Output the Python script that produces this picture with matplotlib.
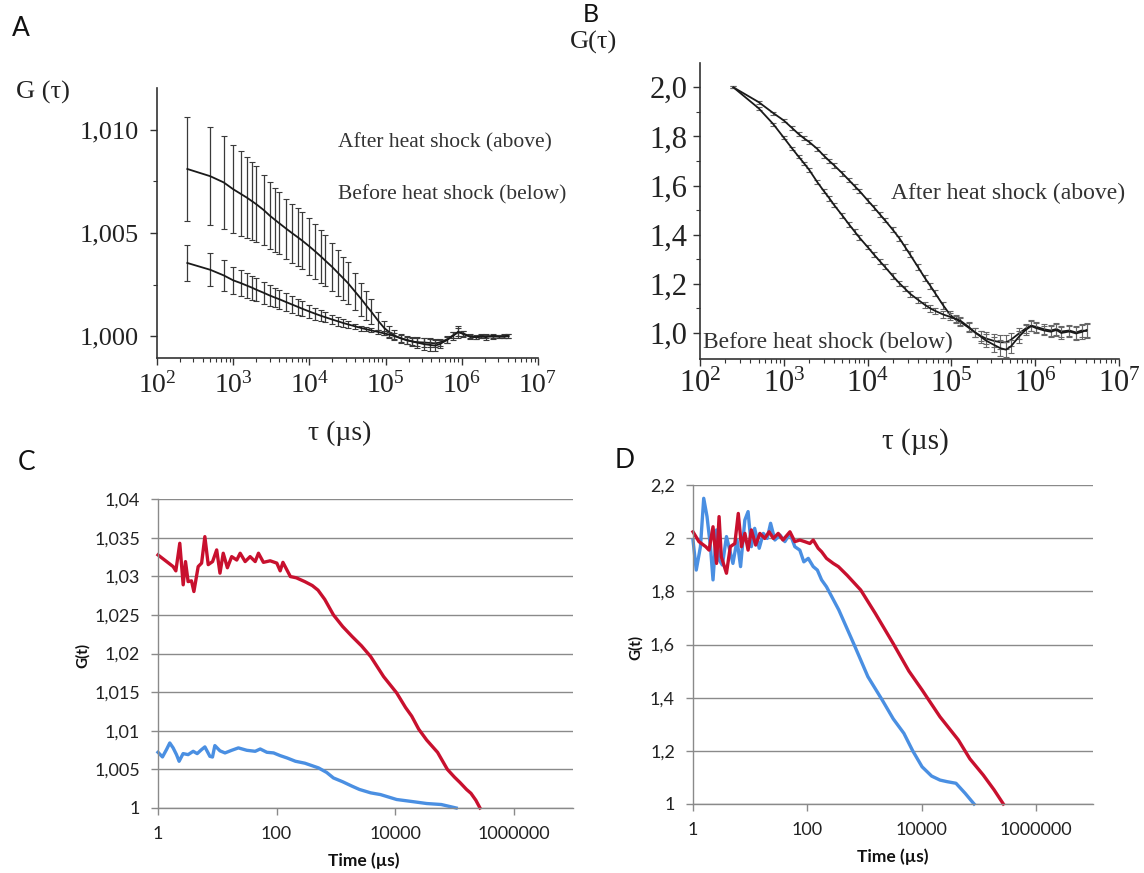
import math
import matplotlib
matplotlib.use('Agg')
import matplotlib.pyplot as plt
from matplotlib.ticker import FixedLocator, NullFormatter, FuncFormatter, LogLocator

# ---------------- data ----------------
# Panels A and B: lag times (µs)
tau = [250, 500, 750, 1000, 1250, 1500, 1750, 2000, 2500, 3000, 3500, 4000, 5000, 6000,
       7000, 8000, 10000, 12000, 14000, 16000, 20000, 24000, 28000, 32000, 40000, 48000,
       56000, 64000, 80000, 96000, 112000, 128000, 160000, 192000, 224000, 256000, 320000,
       384000, 448000, 512000, 640000, 768000, 896000, 1024000, 1280000, 1536000, 1792000,
       2048000, 2560000, 3072000, 3584000, 4096000]

A_after = [1.00810, 1.00775, 1.00745, 1.00712, 1.00690, 1.00672, 1.00655, 1.00640, 1.00612,
           1.00585, 1.00565, 1.00548, 1.00520, 1.00498, 1.00480, 1.00464, 1.00435, 1.00410,
           1.00388, 1.00368, 1.00335, 1.00305, 1.00280, 1.00258, 1.00215, 1.00180, 1.00148,
           1.00122, 1.00075, 1.00040, 1.00020, 1.00005, 0.99990, 0.99980, 0.99975, 0.99972,
           0.99970, 0.99968, 0.99966, 0.99970, 0.99985, 1.00005, 1.00020, 1.00015, 1.00000,
           0.99995, 0.99998, 1.00002, 0.99998, 1.00000, 0.99998, 1.00002]
A_after_err = [0.00250, 0.00236, 0.00225, 0.00214, 0.00205, 0.00198, 0.00190, 0.00183, 0.00170,
               0.00160, 0.00155, 0.00150, 0.00145, 0.00142, 0.00140, 0.00138, 0.00136, 0.00132,
               0.00128, 0.00124, 0.00118, 0.00112, 0.00106, 0.00100, 0.00090, 0.00080, 0.00070,
               0.00060, 0.00045, 0.00035, 0.00030, 0.00025, 0.00020, 0.00018, 0.00018, 0.00020,
               0.00022, 0.00022, 0.00020, 0.00018, 0.00015, 0.00015, 0.00020, 0.00012, 0.00010,
               0.00008, 0.00008, 0.00008, 0.00010, 0.00008, 0.00008, 0.00008]
A_before = [1.00355, 1.00322, 1.00295, 1.00271, 1.00258, 1.00246, 1.00236, 1.00226, 1.00211,
            1.00198, 1.00188, 1.00180, 1.00165, 1.00153, 1.00143, 1.00134, 1.00120, 1.00109,
            1.00100, 1.00093, 1.00081, 1.00072, 1.00064, 1.00058, 1.00048, 1.00040, 1.00034,
            1.00029, 1.00021, 1.00014, 1.00008, 1.00002, 0.99990, 0.99982, 0.99975, 0.99970,
            0.99962, 0.99958, 0.99955, 0.99962, 0.99982, 1.00002, 1.00022, 1.00012, 0.99998,
            0.99996, 1.00000, 0.99996, 1.00002, 0.99998, 1.00000, 1.00001]
A_before_err = [0.00089, 0.00079, 0.00075, 0.00066, 0.00062, 0.00060, 0.00058, 0.00056, 0.00053,
                0.00050, 0.00048, 0.00046, 0.00043, 0.00040, 0.00038, 0.00036, 0.00033, 0.00030,
                0.00028, 0.00026, 0.00023, 0.00020, 0.00018, 0.00016, 0.00014, 0.00012, 0.00010,
                0.00010, 0.00009, 0.00010, 0.00012, 0.00014, 0.00016, 0.00018, 0.00022, 0.00025,
                0.00028, 0.00030, 0.00025, 0.00020, 0.00016, 0.00018, 0.00030, 0.00014, 0.00010,
                0.00008, 0.00010, 0.00012, 0.00010, 0.00008, 0.00010, 0.00010]

B_after = [2.000, 1.940, 1.895, 1.865, 1.835, 1.810, 1.792, 1.778, 1.750, 1.722, 1.700, 1.682,
           1.650, 1.622, 1.598, 1.578, 1.540, 1.510, 1.483, 1.460, 1.420, 1.385, 1.350, 1.320,
           1.268, 1.225, 1.192, 1.162, 1.112, 1.075, 1.055, 1.045, 1.022, 1.002, 0.988, 0.978,
           0.968, 0.962, 0.962, 0.972, 0.998, 1.018, 1.030, 1.025, 1.015, 1.010, 1.016, 1.006,
           1.010, 1.002, 1.010, 1.008]
B_after_err = [0.004, 0.006, 0.006, 0.007, 0.007, 0.007, 0.008, 0.008, 0.008, 0.008, 0.009,
               0.009, 0.009, 0.009, 0.010, 0.010, 0.010, 0.010, 0.010, 0.010, 0.011, 0.011,
               0.011, 0.012, 0.012, 0.012, 0.013, 0.013, 0.014, 0.014, 0.015, 0.016, 0.018,
               0.020, 0.022, 0.024, 0.026, 0.028, 0.028, 0.026, 0.022, 0.020, 0.022, 0.020,
               0.020, 0.022, 0.024, 0.022, 0.024, 0.026, 0.026, 0.028]
B_before = [2.000, 1.915, 1.850, 1.795, 1.752, 1.718, 1.690, 1.665, 1.615, 1.578, 1.548, 1.520,
            1.478, 1.442, 1.413, 1.388, 1.350, 1.318, 1.292, 1.270, 1.232, 1.202, 1.180, 1.160,
            1.135, 1.115, 1.100, 1.090, 1.075, 1.066, 1.058, 1.050, 1.025, 1.002, 0.985, 0.970,
            0.952, 0.938, 0.932, 0.945, 0.985, 1.012, 1.028, 1.020, 1.010, 1.005, 1.012, 1.000,
            1.006, 0.998, 1.004, 1.012]
B_before_err = [0.004, 0.006, 0.006, 0.007, 0.007, 0.007, 0.008, 0.008, 0.008, 0.008, 0.009,
                0.009, 0.009, 0.009, 0.010, 0.010, 0.010, 0.010, 0.010, 0.010, 0.011, 0.011,
                0.011, 0.012, 0.012, 0.012, 0.013, 0.013, 0.014, 0.014, 0.015, 0.016, 0.018,
                0.020, 0.024, 0.026, 0.030, 0.032, 0.030, 0.028, 0.024, 0.020, 0.022, 0.020,
                0.020, 0.022, 0.024, 0.026, 0.024, 0.026, 0.028, 0.028]

# Panel C
C_red_t = [1, 1.8, 2.0, 2.33, 2.66, 2.91, 3.22, 3.67, 4.03, 4.76, 5.44, 6.17, 7.03, 8.33, 9.77,
           11.1, 12.6, 14.8, 17.5, 21.3, 24.3, 29.5, 35.8, 43.6, 49.5, 60, 78, 101, 115, 128,
           171, 215, 300, 400, 500, 650, 910, 1300, 1880, 2700, 3870, 6400, 10600, 15000,
           19000, 25000, 34000, 52000, 76000, 100000, 124000, 160000, 190000, 230000, 270000]
C_red_g = [1.03276, 1.03125, 1.0307, 1.03427, 1.02889, 1.0319, 1.02931, 1.0294, 1.02802, 1.03125,
           1.0317, 1.03513, 1.0315, 1.0319, 1.03341, 1.0304, 1.03298, 1.0311, 1.03254, 1.0321,
           1.03298, 1.0319, 1.03254, 1.0319, 1.03298, 1.0318, 1.0320, 1.0317, 1.0307, 1.0318,
           1.02996, 1.0298, 1.0293, 1.0288, 1.0282, 1.0270, 1.0250, 1.0235, 1.0222, 1.0210,
           1.0196, 1.0170, 1.0149, 1.0130, 1.0119, 1.0102, 1.0088, 1.0072, 1.0050, 1.0040,
           1.0033, 1.0024, 1.0019, 1.0010, 1.0000]
C_blue_t = [1, 1.19, 1.39, 1.58, 1.80, 2.05, 2.27, 2.65, 3.22, 3.92, 4.58, 5.43, 6.18, 7.5, 8.3,
            9.1, 11.1, 13.5, 17.5, 22.7, 31.5, 43.6, 53, 68.7, 89, 115, 150, 208, 300, 510,
            700, 910, 1300, 1880, 2500, 3870, 5650, 10600, 21000, 34000, 60000, 107000]
C_blue_g = [1.00721, 1.00661, 1.00756, 1.00842, 1.00778, 1.00691, 1.00605, 1.00704, 1.00691,
            1.00734, 1.00704, 1.00756, 1.00791, 1.00669, 1.0066, 1.00808, 1.0074, 1.00713,
            1.00747, 1.00778, 1.00747, 1.00734, 1.00764, 1.00721, 1.00713, 1.00678, 1.00648,
            1.00605, 1.0058, 1.00519, 1.0046, 1.00389, 1.0034, 1.00282, 1.0024, 1.00196,
            1.00174, 1.0011, 1.0008, 1.00058, 1.00045, 1.0000]

# Panel D
D_red_t = [1, 1.27, 1.67, 1.91, 2.24, 2.58, 2.86, 3.13, 3.85, 4.5, 5.4, 6.2, 7.05, 8.1, 9.2,
           10.5, 12.5, 14.8, 18, 21.5, 25.5, 31, 37.5, 49.7, 60.5, 74, 90, 111, 127, 155, 178,
           217, 285, 350, 500, 861, 1550, 3180, 6000, 10200, 21000, 44000, 70000, 120000,
           186000, 270000]
D_red_g = [2.024, 1.987, 1.968, 1.955, 2.043, 1.905, 2.081, 1.930, 1.868, 1.968, 1.980, 2.093,
           1.968, 2.018, 1.955, 2.031, 1.974, 2.018, 1.999, 2.024, 1.999, 2.018, 1.993, 2.024,
           1.987, 1.993, 1.987, 1.980, 1.993, 1.962, 1.949, 1.924, 1.905, 1.893, 1.860, 1.805,
           1.717, 1.604, 1.500, 1.429, 1.328, 1.241, 1.170, 1.109, 1.053, 1.000]
D_blue_t = [1, 1.14, 1.35, 1.54, 1.76, 2.02, 2.24, 2.57, 2.86, 3.27, 3.85, 4.4, 5.0, 5.9, 6.8,
            8.07, 9.2, 10.5, 12, 14.4, 17, 19.9, 22.8, 27.1, 33.2, 40.5, 49.7, 60.5, 74, 87,
            104, 127, 150, 178, 217, 356, 646, 1150, 2050, 3200, 4900, 7000, 10200, 15000,
            21000, 28000, 40000, 58000, 83000]
D_blue_g = [1.993, 1.880, 1.968, 2.150, 2.081, 1.968, 1.843, 2.031, 1.918, 1.899, 2.006, 1.955,
            1.905, 1.993, 1.893, 2.068, 2.100, 1.968, 2.037, 1.962, 2.018, 1.999, 2.056, 1.993,
            2.012, 1.987, 2.018, 1.968, 1.955, 1.911, 1.924, 1.893, 1.880, 1.843, 1.817, 1.730,
            1.604, 1.479, 1.391, 1.320, 1.266, 1.200, 1.140, 1.105, 1.090, 1.084, 1.078, 1.040,
            1.000]

# ---------------- figure ----------------
W, H = 1144, 873
plt.rcParams['mathtext.fontset'] = 'custom'
plt.rcParams['mathtext.rm'] = 'Liberation Serif'
plt.rcParams['mathtext.it'] = 'Liberation Serif:italic'
plt.rcParams['mathtext.bf'] = 'Liberation Serif:bold'
fig = plt.figure(figsize=(W / 100, H / 100), dpi=100)
fig.patch.set_facecolor('white')

SERIF = 'Liberation Serif'
SANS = 'Lato'


def ax_rect(l, t, r, b):
    return [l / W, 1 - b / H, (r - l) / W, (b - t) / H]


def ftxt(x, y, s, **kw):
    fig.text(x / W, 1 - y / H, s, **kw)


def pow_fmt(v, pos):
    e = int(round(math.log10(v)))
    return r'$\mathregular{10^{%d}}$' % e


def style_fcs(ax, ysize, xsize, ypad, xpad):
    for sp in ['top', 'right']:
        ax.spines[sp].set_visible(False)
    for sp in ['left', 'bottom']:
        ax.spines[sp].set_color('#333333')
        ax.spines[sp].set_linewidth(1.2)
    ax.set_xscale('log')
    ax.set_xlim(1e2, 1e7)
    ax.xaxis.set_major_locator(FixedLocator([1e2, 1e3, 1e4, 1e5, 1e6, 1e7]))
    ax.xaxis.set_major_formatter(FuncFormatter(pow_fmt))
    ax.xaxis.set_minor_locator(LogLocator(base=10, subs=range(2, 10), numticks=20))
    ax.xaxis.set_minor_formatter(NullFormatter())
    ax.tick_params(axis='both', which='major', direction='out', length=5, width=1.0,
                   color='#333333', labelcolor='#222222')
    ax.tick_params(axis='both', which='minor', direction='out', length=3, width=0.8,
                   color='#333333')
    ax.tick_params(axis='y', which='major', labelsize=ysize, pad=ypad)
    ax.tick_params(axis='x', which='major', labelsize=xsize, pad=xpad)


def serif_labels(ax):
    for lab in ax.get_yticklabels() + ax.get_xticklabels():
        lab.set_family(SERIF)


# ----- Panel A -----
axA = fig.add_axes(ax_rect(157, 88, 538, 358))
style_fcs(axA, 19, 20, 8, 5)
axA.set_ylim(0.99895, 1.01202)
axA.yaxis.set_major_locator(FixedLocator([1.000, 1.005, 1.010]))
axA.yaxis.set_minor_locator(FixedLocator([1.0025, 1.0075]))
axA.yaxis.set_major_formatter(FuncFormatter(lambda v, p: ('%.3f' % v).replace('.', ',')))
for y, e in [(A_after, A_after_err), (A_before, A_before_err)]:
    axA.errorbar(tau, y, yerr=e, fmt='none', ecolor='#3a3a3a', elinewidth=0.9,
                 capsize=2.5, capthick=0.8)
    axA.plot(tau, y, color='#1a1a1a', lw=1.3)
serif_labels(axA)

ftxt(12, 28, 'A', fontsize=19, family=SANS, va='center', ha='left', color='#111111')
ftxt(16, 92, 'G (τ)', fontsize=19, family=SERIF, va='center', ha='left', color='#222222')
ftxt(338, 143, 'After heat shock (above)', fontsize=15.5, family=SERIF, va='center',
     ha='left', color='#333333')
ftxt(338, 195, 'Before heat shock (below)', fontsize=15.5, family=SERIF, va='center',
     ha='left', color='#333333')
ftxt(340, 433, 'τ (µs)', fontsize=20, family=SERIF, va='center', ha='center',
     color='#222222')

# ----- Panel B -----
axB = fig.add_axes(ax_rect(700, 63, 1119, 359))
style_fcs(axB, 22, 22, 4, 3)
axB.set_ylim(0.894, 2.099)
axB.yaxis.set_major_locator(FixedLocator([1.0, 1.2, 1.4, 1.6, 1.8, 2.0]))
axB.yaxis.set_minor_locator(FixedLocator([1.1, 1.3, 1.5, 1.7, 1.9]))
axB.yaxis.set_major_formatter(FuncFormatter(lambda v, p: ('%.1f' % v).replace('.', ',')))
for y, e in [(B_after, B_after_err), (B_before, B_before_err)]:
    axB.errorbar(tau, y, yerr=e, fmt='none', ecolor='#666666', elinewidth=0.8,
                 capsize=2.0, capthick=0.8)
    axB.plot(tau, y, color='#1a1a1a', lw=1.3)
serif_labels(axB)

ftxt(583, 15, 'B', fontsize=18, family=SANS, va='center', ha='left', color='#111111')
ftxt(570, 42, 'G(τ)', fontsize=19, family=SERIF, va='center', ha='left', color='#222222')
ftxt(891, 193, 'After heat shock (above)', fontsize=17, family=SERIF, va='center',
     ha='left', color='#333333')
ftxt(703, 342, 'Before heat shock (below)', fontsize=17, family=SERIF, va='center',
     ha='left', color='#333333')
ftxt(915, 442, 'τ (µs)', fontsize=21, family=SERIF, va='center', ha='center',
     color='#222222')


# ----- Panels C and D -----
def excel_fmt(v, p):
    s = ('%.3f' % v).rstrip('0').rstrip('.')
    return s.replace('.', ',')


def style_excel(ax, yticks, ylim):
    ax.set_xscale('log')
    ax.set_xlim(1, 1e7)
    ax.set_ylim(*ylim)
    for sp in ['top', 'right']:
        ax.spines[sp].set_visible(False)
    for sp in ['left', 'bottom']:
        ax.spines[sp].set_color('#8a8a8a')
        ax.spines[sp].set_linewidth(1.0)
    ax.yaxis.set_major_locator(FixedLocator(yticks))
    ax.yaxis.set_major_formatter(FuncFormatter(excel_fmt))
    ax.xaxis.set_major_locator(FixedLocator([1, 1e2, 1e4, 1e6]))
    ax.xaxis.set_major_formatter(FuncFormatter(lambda v, p: '%d' % round(v)))
    ax.xaxis.set_minor_locator(FixedLocator([]))
    ax.grid(axis='y', color='#8a8a8a', lw=1.0)
    ax.set_axisbelow(True)
    ax.tick_params(axis='both', which='major', direction='out', length=5, width=1.0,
                   color='#8a8a8a', labelsize=13, labelcolor='#222222')
    ax.tick_params(axis='y', pad=8)
    ax.tick_params(axis='x', pad=8)
    for lab in ax.get_yticklabels() + ax.get_xticklabels():
        lab.set_family(SANS)


RED = '#c8102e'
BLUE = '#4a8fe2'

axC = fig.add_axes(ax_rect(158, 499, 573, 808))
style_excel(axC, [1.0, 1.005, 1.01, 1.015, 1.02, 1.025, 1.03, 1.035, 1.04], (1.0, 1.04))
axC.plot(C_blue_t, C_blue_g, color=BLUE, lw=2.4, clip_on=False, solid_joinstyle='round')
axC.plot(C_red_t, C_red_g, color=RED, lw=2.4, clip_on=False, solid_joinstyle='round')

ftxt(27, 462, 'C', fontsize=19, family=SANS, va='center', ha='center', color='#111111')
ftxt(83, 655, 'G(t)', fontsize=11, family=SANS, fontweight='bold', rotation=90,
     va='center', ha='center', color='#111111')
ftxt(364, 861, 'Time (µs)', fontsize=12.5, family=SANS, fontweight='bold', va='center',
     ha='center', color='#111111')

axD = fig.add_axes(ax_rect(693, 485, 1093, 804))
style_excel(axD, [1.0, 1.2, 1.4, 1.6, 1.8, 2.0, 2.2], (1.0, 2.2))
axD.plot(D_blue_t, D_blue_g, color=BLUE, lw=2.4, clip_on=False, solid_joinstyle='round')
axD.plot(D_red_t, D_red_g, color=RED, lw=2.4, clip_on=False, solid_joinstyle='round')

ftxt(625, 460, 'D', fontsize=19, family=SANS, va='center', ha='center', color='#111111')
ftxt(636, 647, 'G(t)', fontsize=11, family=SANS, fontweight='bold', rotation=90,
     va='center', ha='center', color='#111111')
ftxt(893, 857, 'Time (µs)', fontsize=12.5, family=SANS, fontweight='bold', va='center',
     ha='center', color='#111111')

fig.savefig('out.png', dpi=100, facecolor='white')
